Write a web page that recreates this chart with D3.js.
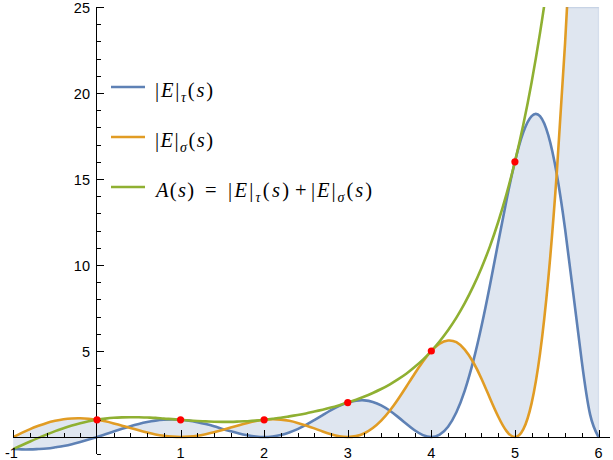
<!DOCTYPE html>
<html><head><meta charset="utf-8">
<script src="https://cdn.jsdelivr.net/npm/d3@7"></script>
<style>body{margin:0;background:#fff}svg{display:block}</style>
</head><body>
<svg id="chart" width="613" height="460"></svg>
<script>
const sValues = d3.range(71).map(i => Math.round((-1 + i * 0.1) * 10) / 10);
const tauValues = [
  -0.69,-0.72,-0.72,-0.70,-0.67,-0.60,-0.52,-0.42,-0.29,-0.15,
   0.00, 0.16, 0.32, 0.48, 0.63, 0.76, 0.87, 0.95, 1.00, 1.02,
   1.00, 0.95, 0.86, 0.75, 0.62, 0.47, 0.33, 0.20, 0.10, 0.03,
   0.00, 0.03, 0.11, 0.26, 0.46, 0.70, 0.98, 1.27, 1.56, 1.81,
   2.00, 2.11, 2.13, 2.04, 1.84, 1.54, 1.17, 0.77, 0.39, 0.11,
   0.00, 0.14, 0.60, 1.44, 2.70, 4.38, 6.44, 8.80,11.31,13.78,
  16.00,17.71,18.66,18.65,17.53,15.30,12.10, 8.28, 4.40, 1.30,
   0.00];
const sigmaValues = [
   0.00, 0.24, 0.46, 0.65, 0.82, 0.94, 1.03, 1.08, 1.09, 1.06,
   1.00, 0.91, 0.79, 0.66, 0.53, 0.39, 0.26, 0.15, 0.07, 0.02,
   0.00, 0.02, 0.07, 0.16, 0.27, 0.41, 0.55, 0.69, 0.82, 0.93,
   1.00, 1.03, 1.01, 0.94, 0.82, 0.67, 0.50, 0.32, 0.16, 0.04,
   0.00, 0.05, 0.22, 0.52, 0.95, 1.51, 2.18, 2.92, 3.68, 4.39,
   5.00, 5.43, 5.61, 5.51, 5.08, 4.36, 3.39, 2.27, 1.19, 0.34,
   0.00, 0.44, 1.97, 4.83, 9.24,15.28,22.89,31.83,41.65,51.66,
  61.00];
const sumValues = [
  -0.69,-0.48,-0.26,-0.05, 0.15, 0.34, 0.51, 0.67, 0.80, 0.91,
   1.00, 1.07, 1.12, 1.14, 1.15, 1.15, 1.13, 1.11, 1.07, 1.04,
   1.00, 0.96, 0.93, 0.91, 0.89, 0.88, 0.88, 0.90, 0.92, 0.95,
   1.00, 1.06, 1.12, 1.20, 1.28, 1.37, 1.48, 1.59, 1.71, 1.85,
   2.00, 2.17, 2.35, 2.56, 2.79, 3.05, 3.35, 3.68, 4.07, 4.50,
   5.00, 5.57, 6.21, 6.94, 7.78, 8.74, 9.83,11.07,12.50,14.13,
  16.00,18.15,20.63,23.48,26.77,30.58,34.99,40.11,46.05,52.96,
  61.00];
const pointS = [0, 1, 2, 3, 4, 5];
const pointA = [1, 1, 1, 2, 5, 16];
const xTickLabels = [-1, 1, 2, 3, 4, 5, 6];
const yTickLabels = [5, 10, 15, 20, 25];
const xDomain = [-1, 6], yDomain = [-1, 25];
const xAxisEnd = 6.14;
const orangeTopCross = 5.61;

// ---- layout ----
const svg = d3.select("#chart");
const x = d3.scaleLinear().domain(xDomain).range([13.4, 598.5]);
const y = d3.scaleLinear().domain(yDomain).range([454.2, 7]);
const C = {blue:"#5e81b5", orange:"#e19c24", green:"#8fb032", red:"#ff0000"};

svg.append("defs").append("clipPath").attr("id","clip")
  .append("rect").attr("x", x(-1)).attr("y", y(25))
  .attr("width", x(6) - x(-1) + 2).attr("height", y(-1.5) - y(25));

const rows = sValues.map((s, i) => ({s, t: tauValues[i], g: sigmaValues[i], a: sumValues[i]}));
const plot = svg.append("g").attr("clip-path", "url(#clip)");

// filling between the two curves
plot.append("path").datum(rows)
  .attr("d", d3.area().curve(d3.curveNatural).x(d => x(d.s)).y0(d => y(d.g)).y1(d => y(d.t)))
  .attr("fill", C.blue).attr("fill-opacity", 0.2)
  .attr("stroke", C.blue).attr("stroke-opacity", 0.18).attr("stroke-width", 1.2);
svg.append("line")
  .attr("x1", x(orangeTopCross)).attr("x2", x(6)).attr("y1", y(25) + 0.6).attr("y2", y(25) + 0.6)
  .attr("stroke", C.blue).attr("stroke-opacity", 0.18).attr("stroke-width", 1.2);

// ---- axes ----
const ax = svg.append("g").attr("stroke", "#000").attr("shape-rendering", "crispEdges");
ax.append("line").attr("x1", x(-1)).attr("x2", x(xAxisEnd)).attr("y1", y(0)).attr("y2", y(0)).attr("stroke-width", 1);
ax.append("line").attr("x1", x(0)).attr("x2", x(0)).attr("y1", y(-1)).attr("y2", y(25)).attr("stroke-width", 1);
const xt = d3.range(-50, 31).map(k => k / 5).filter(v => v >= -1 && v <= 6 && v !== 0);
xt.forEach(v => {
  const major = Math.abs(v - Math.round(v)) < 1e-9;
  ax.append("line").attr("x1", Math.round(x(v)) + 0.5).attr("x2", Math.round(x(v)) + 0.5)
    .attr("y1", y(0)).attr("y2", y(0) - (major ? 7 : 4)).attr("stroke-width", 1);
});
const yt = d3.range(-1, 26).filter(v => v !== 0);
yt.forEach(v => {
  const major = v % 5 === 0;
  ax.append("line").attr("x1", x(0)).attr("x2", x(0) + (major ? 7 : 4))
    .attr("y1", Math.round(y(v)) + 0.5).attr("y2", Math.round(y(v)) + 0.5).attr("stroke-width", 1);
});
const lab = svg.append("g").attr("font-family", "'Liberation Sans', Arial, sans-serif").attr("font-size", 14.5).attr("fill", "#000");
xTickLabels.forEach(v => {
  lab.append("text").attr("x", x(v) - (v < 0 ? 2 : 0)).attr("y", y(0) + 21).attr("text-anchor", "middle")
    .text(v < 0 ? "-" + Math.abs(v) : String(v));
});
yTickLabels.forEach(v => {
  lab.append("text").attr("x", x(0) - 7).attr("y", y(v) + 5.5).attr("text-anchor", "end").text(String(v));
});

// ---- curves ----
const line = key => d3.line().curve(d3.curveNatural).x(d => x(d.s)).y(d => y(d[key]));
[["t", C.blue], ["g", C.orange], ["a", C.green]].forEach(([k, c]) => {
  plot.append("path").datum(rows).attr("d", line(k)).attr("fill", "none")
    .attr("stroke", c).attr("stroke-width", 2.6).attr("stroke-linejoin", "round");
});

// ---- red points ----
svg.append("g").selectAll("circle").data(pointS).join("circle")
  .attr("cx", d => x(d)).attr("cy", (d, i) => y(pointA[i])).attr("r", 3.6).attr("fill", C.red);

// ---- legend ----
const leg = svg.append("g");
const tauPart = [["|",0],["E",1],["|",0],["τ",2],["(",0],["s",1],[")",0]];
const sigPart = [["|",0],["E",1],["|",0],["σ",2],["(",0],["s",1],[")",0]];
const legendRows = [
  {c: C.blue, y: 87, segs: [{x: 155, w: 58, parts: tauPart}]},
  {c: C.orange, y: 137, segs: [{x: 155, w: 58, parts: sigPart}]},
  {c: C.green, y: 187, segs: [
    {x: 156, w: 38, parts: [["A",1],["(",0],["s",1],[")",0]]},
    {x: 205, w: 12, parts: [["=",0]]},
    {x: 228, w: 61, parts: tauPart},
    {x: 295, w: 12, parts: [["+",0]]},
    {x: 311, w: 61, parts: sigPart}]}
];
legendRows.forEach(r => {
  leg.append("line").attr("x1", 111).attr("x2", 145).attr("y1", r.y).attr("y2", r.y)
    .attr("stroke", r.c).attr("stroke-width", 2.6);
  r.segs.forEach(sg => {
    const t = leg.append("text").attr("x", sg.x).attr("y", r.y + 10)
      .attr("font-family", "'Liberation Serif', 'DejaVu Serif', serif").attr("font-size", 20.5).attr("fill", "#000")
      .attr("textLength", sg.w).attr("lengthAdjust", "spacing");
    let sub = false;
    sg.parts.forEach(([s, k]) => {
      const sp = t.append("tspan").text(s);
      if (k === 1) sp.attr("font-style", "italic");
      if (k === 2) { sp.attr("font-style", "italic").attr("font-size", 14).attr("dy", 4.5); sub = true; }
      else if (sub) { sp.attr("dy", -4.5); sub = false; }
    });
  });
});
</script>
</body></html>
